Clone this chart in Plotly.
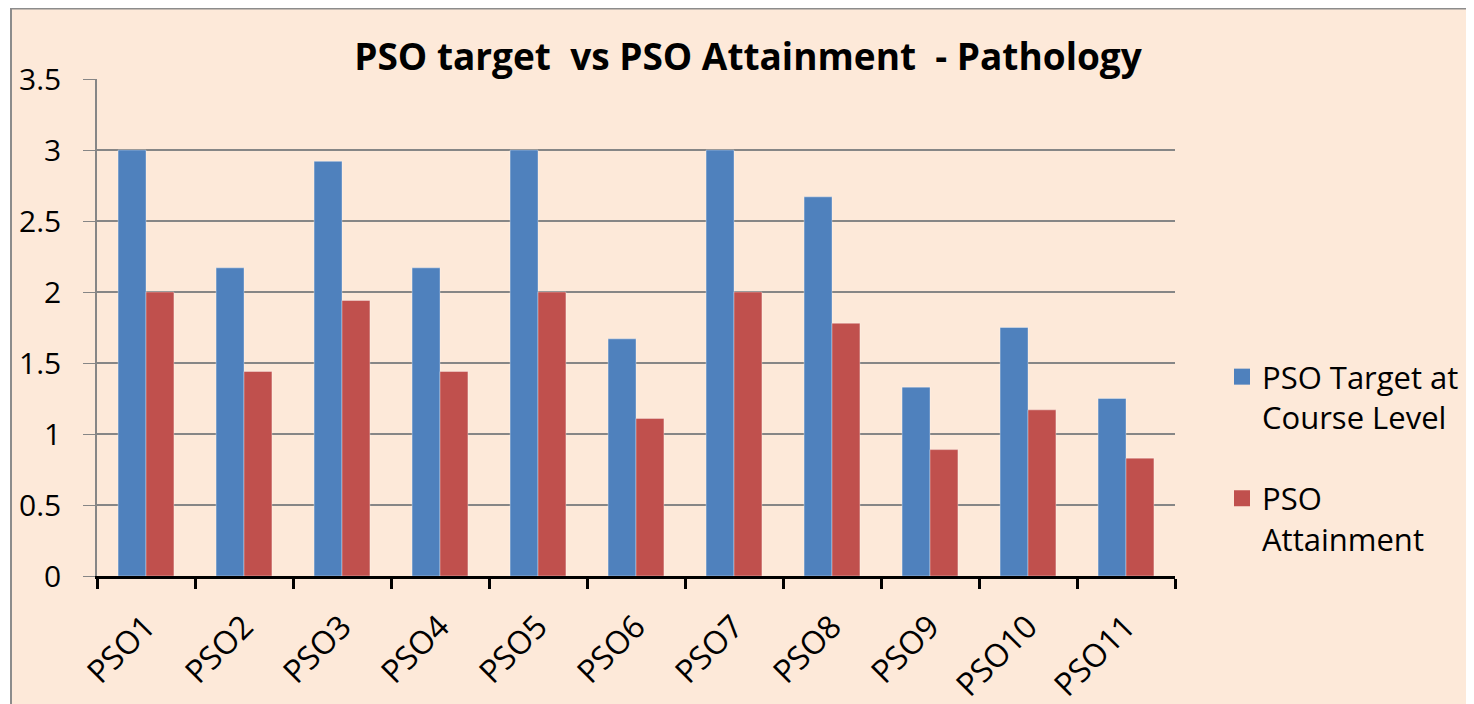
import plotly.graph_objects as go

categories = ["PSO1", "PSO2", "PSO3", "PSO4", "PSO5", "PSO6", "PSO7", "PSO8", "PSO9", "PSO10", "PSO11"]
target = [3.0, 2.17, 2.92, 2.17, 3.0, 1.67, 3.0, 2.67, 1.33, 1.75, 1.25]
attainment = [2.0, 1.44, 1.94, 1.44, 2.0, 1.11, 2.0, 1.78, 0.89, 1.17, 0.83]
series_names = ["PSO Target at<br>Course Level", "PSO<br>Attainment"]
colors = ["#4F81BD", "#C0504D"]

# page has 8px body margin; figure coordinates are page - 8
W, H = 1466, 696
ml, pw, mt, ph = 89, 1078, 71, 497
mr, mb = W - ml - pw, H - mt - ph

fig = go.Figure()
for i, (name, vals, c) in enumerate(zip(series_names, [target, attainment], colors)):
    fig.add_trace(go.Bar(x=categories, y=vals, name=name, showlegend=False, legendgroup=f"g{i}",
                         marker=dict(color=c, line=dict(color="rgba(255,255,255,0.35)", width=1))))
    fig.add_trace(go.Scatter(x=[None], y=[None], mode="markers", name=name, legendgroup=f"g{i}",
                             marker=dict(symbol="square", size=20, color=c)))

FONT = "Open Sans"
fig.update_layout(
    width=W, height=H,
    margin=dict(l=ml, r=mr, t=mt, b=mb, autoexpand=False),
    paper_bgcolor="white",
    plot_bgcolor="rgba(0,0,0,0)",
    barmode="group", bargap=0.43, bargroupgap=0,
    font=dict(family=FONT, color="black"),
    title=dict(text="<b>PSO target  vs PSO Attainment  - Pathology</b>", x=740 / W, xanchor="center",
               y=1 - 49 / H, yanchor="middle", font=dict(size=37, family=FONT, color="black")),
    legend=dict(x=(1214 - ml) / pw, xanchor="left", y=(mt + ph - 342) / ph, yanchor="top", valign="top",
                font=dict(size=31, family=FONT), tracegroupgap=38, itemwidth=30, bgcolor="rgba(0,0,0,0)"),
    showlegend=True,
    shapes=[dict(type="rect", xref="paper", yref="paper", layer="below",
                 x0=(3 - ml) / pw, x1=(W + 10 - ml) / pw, y0=-(H + 10 - mt - ph) / ph, y1=1 + (mt - 0.5) / ph,
                 fillcolor="#FDE9D9", line=dict(color="#8C8C8C", width=2))],
)
fig.update_xaxes(type="category", showline=True, linecolor="black", linewidth=3, ticks="outside", tickson="boundaries",
                 ticklen=10, tickwidth=3, tickcolor="black", tickangle=-45, tickfont=dict(size=32, family=FONT),
                 ticklabelstandoff=16, showgrid=False)
fig.update_yaxes(range=[0, 3.5], dtick=0.5, showline=True, linecolor="#868686", linewidth=1.5, ticks="outside", ticklen=12,
                 tickcolor="#868686", showgrid=True, gridcolor="#868686", gridwidth=1.5, zeroline=False,
                 tickfont=dict(size=30, family=FONT), ticklabelstandoff=16)

fig.write_html("out.html")
